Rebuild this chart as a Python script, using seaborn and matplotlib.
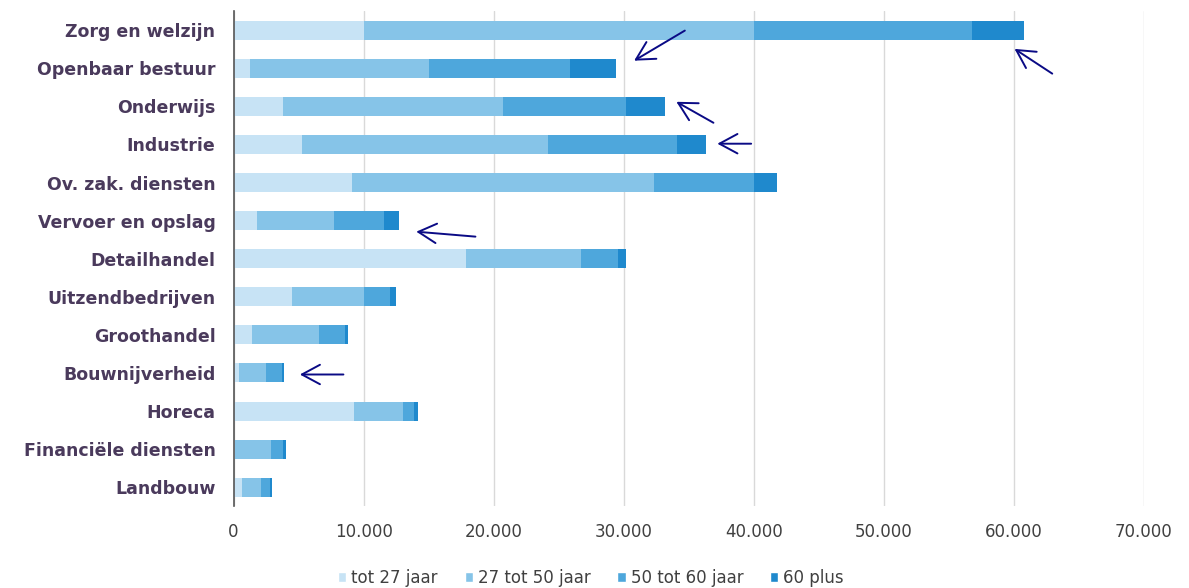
import matplotlib
matplotlib.use("Agg")
import matplotlib.pyplot as plt
from matplotlib.patches import Patch
from matplotlib.ticker import FuncFormatter
import pandas as pd
import seaborn as sns

# sectors, top to bottom
sectors = ["Zorg en welzijn", "Openbaar bestuur", "Onderwijs", "Industrie",
           "Ov. zak. diensten", "Vervoer en opslag", "Detailhandel",
           "Uitzendbedrijven", "Groothandel", "Bouwnijverheid", "Horeca",
           "Financiële diensten", "Landbouw"]

# workers per age group
tot_27 = [10000, 1300, 3800, 5300, 9100, 1800, 17900, 4500, 1400, 400, 9300, 150, 650]
tot_50 = [30000, 13700, 16900, 18900, 23200, 5900, 8800, 5500, 5200, 2100, 3700, 2700, 1500]
tot_60 = [16800, 10900, 9500, 9900, 7700, 3900, 2900, 2000, 2000, 1200, 900, 950, 650]
plus_60 = [4000, 3500, 3000, 2200, 1800, 1100, 600, 500, 200, 150, 300, 200, 150]

groups = ["tot 27 jaar", "27 tot 50 jaar", "50 tot 60 jaar", "60 plus"]
colors = ["#c7e3f5", "#86c4e8", "#4ea7dc", "#1f89cd"]

# arrows: (tail x, tail y, head x, head y), y in category positions
arrows = [(34700, 0.01, 30800, 0.80),
          (62950, 1.14, 60050, 0.49),
          (36900, 2.43, 34050, 1.88),
          (39800, 2.98, 37200, 2.98),
          (18600, 5.42, 14050, 5.29),
          (8450, 9.04, 5100, 9.04)]

df = pd.DataFrame({"sector": sectors, groups[0]: tot_27, groups[1]: tot_50,
                   groups[2]: tot_60, groups[3]: plus_60})
cum = df[groups].cumsum(axis=1)
cum["sector"] = df["sector"]

sns.set_style("white")
plt.rcParams["font.family"] = ["DejaVu Sans"]

fig = plt.figure(figsize=(11.89, 5.88), dpi=100)
ax = fig.add_axes([0.1964, 0.139, 0.7657, 0.842])

# draw cumulative totals from the largest down so they stack
for g, c in reversed(list(zip(groups, colors))):
    sns.barplot(data=cum, x=g, y="sector", order=sectors, color=c,
                width=0.5, saturation=1, linewidth=0, ax=ax)

ax.set_xlim(0, 70000)
ax.set_xticks(range(0, 70001, 10000))
ax.xaxis.set_major_formatter(FuncFormatter(lambda v, p: f"{int(v):,}".replace(",", ".")))
ax.grid(axis="x", color="#d9d9d9", lw=1)
ax.set_axisbelow(True)
ax.set_xlabel("")
ax.set_ylabel("")
for s in ["top", "right", "bottom"]:
    ax.spines[s].set_visible(False)
ax.spines["left"].set_color("#555555")
ax.spines["left"].set_linewidth(1.2)
ax.tick_params(axis="y", length=0, pad=13, labelsize=12.5, labelcolor="#4a3a5c")
ax.tick_params(axis="x", length=0, pad=12, labelsize=12, labelcolor="#404040")
for lab in ax.get_yticklabels():
    lab.set_fontweight("bold")

for x0, y0, x1, y1 in arrows:
    ax.annotate("", xy=(x1, y1), xytext=(x0, y0),
                arrowprops=dict(arrowstyle="->,head_length=0.65,head_width=0.35",
                                color="#0a0a85", lw=1.4, mutation_scale=20,
                                shrinkA=0, shrinkB=0))

handles = [Patch(facecolor=c, label=g) for g, c in zip(groups, colors)]
fig.legend(handles=handles, loc="lower center", bbox_to_anchor=(0.497, -0.024),
           ncol=4, frameon=False, fontsize=12, handlelength=0.5, handleheight=0.5,
           handletextpad=0.3, columnspacing=1.6, labelcolor="#404040")

fig.savefig("out.png", dpi=100)
